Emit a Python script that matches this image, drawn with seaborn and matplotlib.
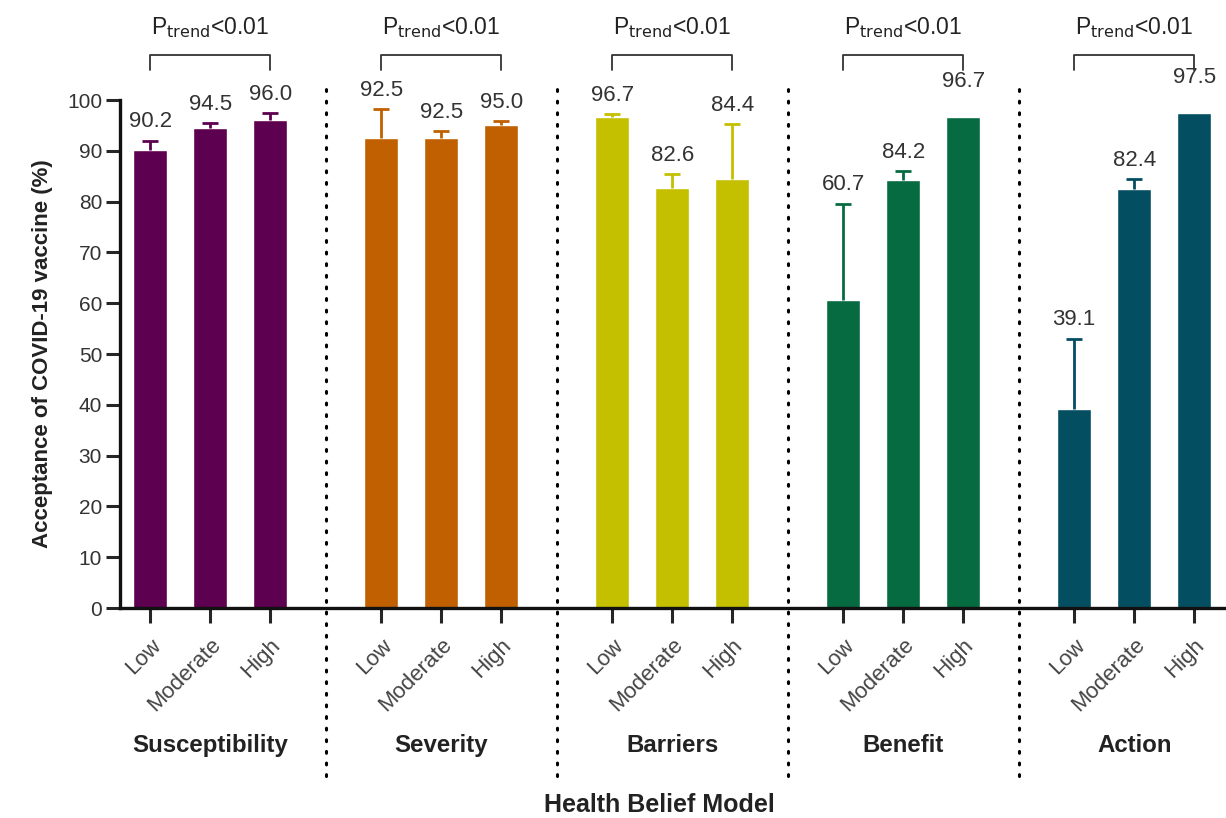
import matplotlib
matplotlib.use("Agg")
import matplotlib.pyplot as plt
import matplotlib.transforms as mtransforms
import numpy as np
import pandas as pd
import seaborn as sns

# Health Belief Model domains and the three score levels within each
groups = ["Susceptibility", "Severity", "Barriers", "Benefit", "Action"]
levels = ["Low", "Moderate", "High"]

# Acceptance of COVID-19 vaccine (%) for Low / Moderate / High
susceptibility = [90.2, 94.5, 96.0]
severity = [92.5, 92.5, 95.0]
barriers = [96.7, 82.6, 84.4]
benefit = [60.7, 84.2, 96.7]
action = [39.1, 82.4, 97.5]

# Upper end of each error bar (%)
susceptibility_upper = [92.0, 95.4, 97.4]
severity_upper = [98.2, 93.9, 95.9]
barriers_upper = [97.2, 85.4, 95.3]
benefit_upper = [79.6, 86.0, 96.7]
action_upper = [53.0, 84.4, 97.5]

trend_label = r"P$_{\mathrm{trend}}$<0.01"

colors = ["#5E0050", "#C06000", "#C4C000", "#066B40", "#044E62"]

values = [susceptibility, severity, barriers, benefit, action]
uppers = [susceptibility_upper, severity_upper, barriers_upper,
          benefit_upper, action_upper]

group_step = 3.85
rows = []
for g, (name, vals, ups) in enumerate(zip(groups, values, uppers)):
    for i, (lev, v, u) in enumerate(zip(levels, vals, ups)):
        rows.append({"group": name, "level": lev, "pos": g * group_step + i,
                     "value": v, "upper": u})
df = pd.DataFrame(rows)

sns.set_style("ticks")
plt.rcParams["font.family"] = ["Liberation Sans", "DejaVu Sans"]
plt.rcParams["mathtext.default"] = "regular"

fig = plt.figure(figsize=(12.26, 8.18), dpi=100)
ax = fig.add_axes([0.098, 0.2567, 0.902, 0.621])

sns.barplot(data=df, x="pos", y="value", hue="group", hue_order=groups,
            palette=colors, native_scale=True, width=0.57, dodge=False,
            saturation=1, errorbar=None, legend=False, ax=ax)

# Upper-only error bars (the lower cap is hidden)
for g, name in enumerate(groups):
    sub = df[df["group"] == name]
    err = (sub["upper"] - sub["value"]).to_numpy()
    has = err > 0.05
    _, caps, _ = ax.errorbar(sub["pos"][has], sub["value"][has],
                             yerr=[np.zeros(has.sum()), err[has]],
                             fmt="none", ecolor=colors[g], elinewidth=2.0,
                             capsize=6, capthick=2.0, zorder=3)
    caps[0].set_visible(False)

# Value labels above the bars / error bars
for _, r in df.iterrows():
    top = max(r["upper"], r["value"])
    pad = 6 if r["upper"] - r["value"] > 0.05 else 18
    ax.annotate(f"{r['value']:.1f}", (r["pos"], top), xytext=(0, pad),
                textcoords="offset points", ha="center", va="bottom",
                fontsize=16, color="#333333")

ax.set_xlim(-0.5, 17.93)
ax.set_ylim(0, 100)
ax.set_yticks(np.arange(0, 101, 10))
ax.set_xticks(df["pos"])
ax.set_xticklabels(df["level"], rotation=45, ha="right",
                   rotation_mode="anchor", fontsize=16, color="#444444")
ax.tick_params(axis="x", length=11, width=2.2, pad=8)
ax.tick_params(axis="y", length=10, width=2.2, labelsize=15,
               labelcolor="#333333", pad=3)
ax.set_xlabel("")
ax.set_ylabel("Acceptance of COVID-19 vaccine (%)", fontsize=16,
              fontweight="bold", labelpad=10, color="#222222")

sns.despine(ax=ax)
for s in ["left", "bottom"]:
    ax.spines[s].set_linewidth(2.4)
    ax.spines[s].set_color("#111111")

trans = mtransforms.blended_transform_factory(ax.transData, ax.transAxes)

# Dotted separators between domains
for g in range(1, len(groups)):
    x = (g - 1) * group_step + 2 + (group_step - 2) / 2
    ax.plot([x, x], [-0.33, 1.04], transform=trans, color="black",
            linestyle=(0, (0.6, 3.2)), linewidth=2.2,
            dash_capstyle="round", clip_on=False, zorder=1)

# Trend brackets, domain names
for g, name in enumerate(groups):
    x0 = g * group_step
    x1 = x0 + 2
    ax.plot([x0, x0, x1, x1], [105.9, 108.9, 108.9, 105.9], color="#333333",
            linewidth=1.3, clip_on=False)
    ax.text((x0 + x1) / 2, 111.8, trend_label, ha="center", va="bottom",
            fontsize=16.5, color="#222222", clip_on=False)
    ax.text((x0 + x1) / 2, -0.27, name, transform=trans, ha="center",
            va="center", fontsize=17.3, fontweight="bold", color="#222222")

fig.text(0.538, 0.016, "Health Belief Model", ha="center", va="center",
         fontsize=18, fontweight="bold", color="#222222")

fig.savefig("out.png", dpi=100)
